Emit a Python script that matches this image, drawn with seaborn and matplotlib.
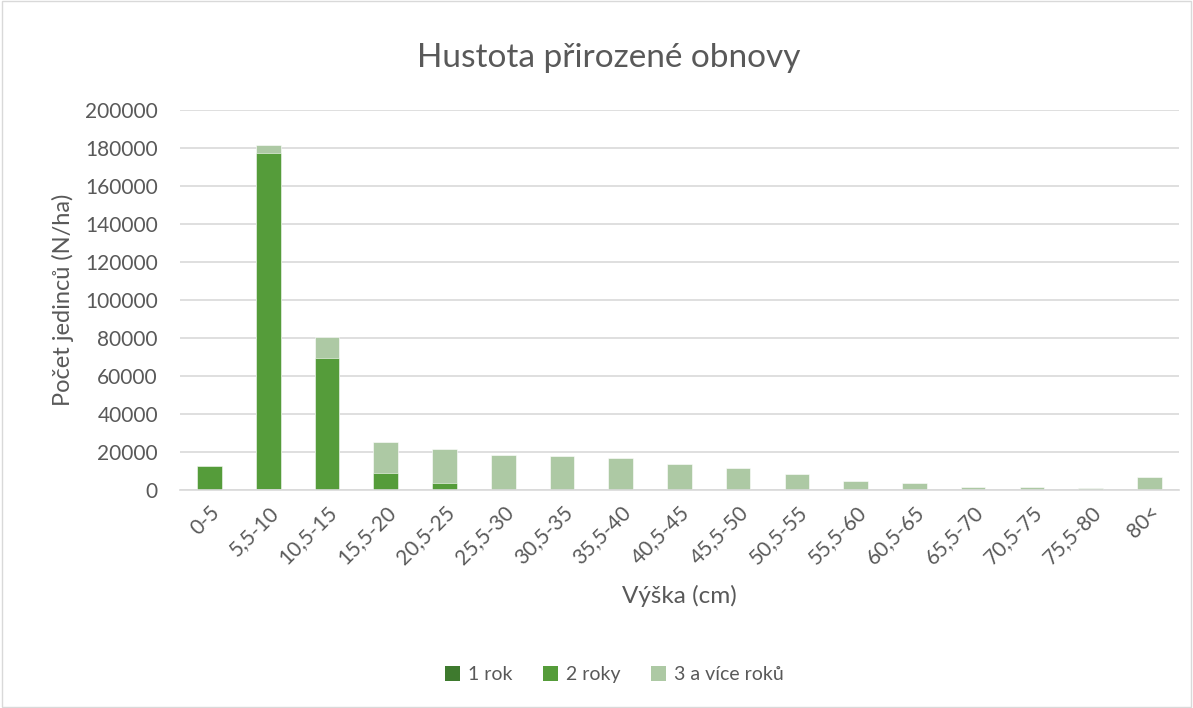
import numpy as np
import pandas as pd
import matplotlib
matplotlib.use("Agg")
import matplotlib.pyplot as plt
import seaborn as sns
from matplotlib.patches import Patch

# ---------------------------------
# Data
# ---------------------------------

heights = ["0-5", "5,5-10", "10,5-15", "15,5-20", "20,5-25", "25,5-30", "30,5-35",
           "35,5-40", "40,5-45", "45,5-50", "50,5-55", "55,5-60", "60,5-65",
           "65,5-70", "70,5-75", "75,5-80", "80<"]

rok_1 = [0, 500, 0, 0, 0, 0, 0, 0, 0, 0, 0, 0, 0, 0, 0, 0, 0]
roky_2 = [12600, 176700, 69500, 8800, 3500, 0, 0, 0, 0, 0, 0, 0, 0, 0, 0, 0, 0]
roky_3 = [0, 4400, 11000, 16600, 17900, 18400, 18000, 16800, 13500, 11400,
          8400, 4600, 3700, 1400, 1750, 1200, 6700]

series_names = ["1 rok", "2 roky", "3 a více roků"]
colors = ["#3E7A2E", "#559C3A", "#ADC9A4"]

df = pd.DataFrame({"height": heights, "r1": rok_1, "r2": roky_2, "r3": roky_3})
df["c1"] = df["r1"]
df["c2"] = df["r1"] + df["r2"]
df["c3"] = df["c2"] + df["r3"]

# ---------------------------------
# Plot
# ---------------------------------

sns.set_style("white")
plt.rcParams["font.family"] = ["Lato", "DejaVu Sans"]
text_col = "#595959"

fig = plt.figure(figsize=(11.93, 7.08), dpi=100)
ax = fig.add_axes([0.151, 0.308, 0.837, 0.537])

for col, color in zip(["c3", "c2", "c1"], colors[::-1]):
    sns.barplot(data=df, x="height", y=col, color=color, width=0.42,
                saturation=1, edgecolor="white", linewidth=0.4, ax=ax)

ax.set_ylim(0, 200000)
ax.set_yticks(range(0, 200001, 20000))
ax.yaxis.grid(True, color="#D9D9D9", linewidth=1.2)
ax.set_axisbelow(True)
for s in ["top", "right", "left"]:
    ax.spines[s].set_visible(False)
ax.spines["bottom"].set_color("#D9D9D9")
ax.spines["bottom"].set_linewidth(1.2)
ax.tick_params(axis="both", length=0, labelsize=15, colors=text_col)
ax.tick_params(axis="y", pad=16)
ax.tick_params(axis="x", pad=9)
plt.setp(ax.get_xticklabels(), rotation=45, ha="right", rotation_mode="anchor")

fig.suptitle("Hustota přirozené obnovy", fontsize=24, color=text_col,
             x=0.51, y=0.918, va="center")
ax.set_xlabel("Výška (cm)", fontsize=17.5, color=text_col, labelpad=12)
ax.set_ylabel("Počet jedinců (N/ha)", fontsize=17, color=text_col, labelpad=8)

handles = [Patch(facecolor=c, edgecolor="none") for c in colors]
fig.legend(handles, series_names, loc="center", bbox_to_anchor=(0.515, 0.047),
           ncol=3, frameon=False, fontsize=14, handlelength=0.75,
           handleheight=0.75, columnspacing=1.6, handletextpad=0.4,
           labelcolor=text_col)

# outer frame
fig.patches.append(plt.Rectangle((0.002, 0.002), 0.996, 0.996,
                                 transform=fig.transFigure, fill=False,
                                 edgecolor="#D9D9D9", linewidth=1))

plt.savefig("out.png", dpi=100)
